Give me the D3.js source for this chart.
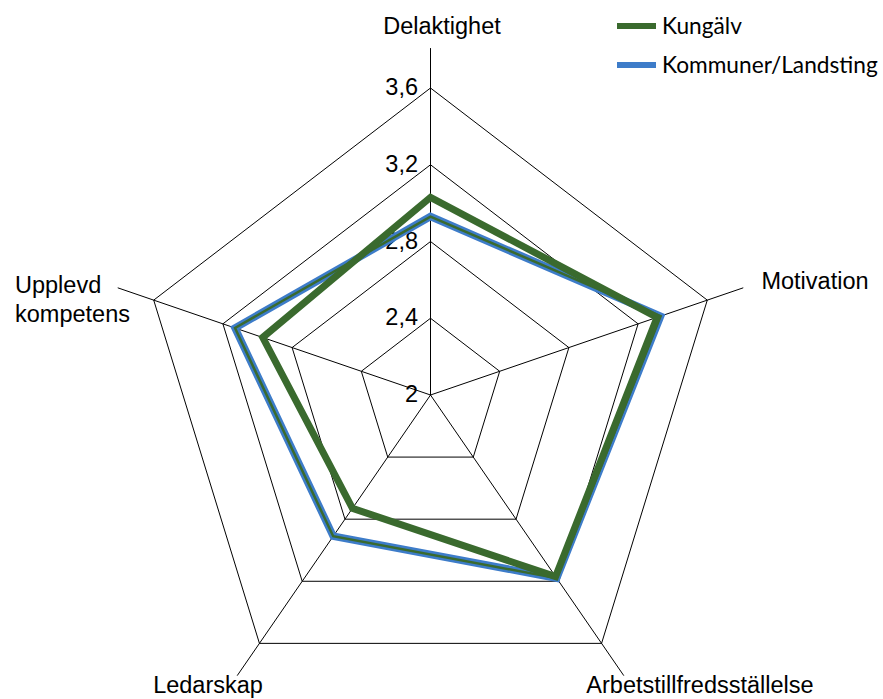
<!DOCTYPE html>
<html><head><meta charset="utf-8">
<script src="https://cdn.jsdelivr.net/npm/d3@7"></script>
<style>body{margin:0;background:#fff}svg{display:block}</style>
</head><body>
<svg id="c" width="883" height="699"></svg>
<script>
const categories = ["Delaktighet","Motivation","Arbetstillfredsställelse","Ledarskap","Upplevd kompetens"];
const kungalv = [3.03, 3.31, 3.17, 2.73, 2.97];
const kommuner = [2.93, 3.33, 3.18, 2.91, 3.13];
const ticks = [2, 2.4, 2.8, 3.2, 3.6];
const tickLabels = ["2","2,4","2,8","3,2","3,6"];
const seriesNames = ["Kungälv","Kommuner/Landsting"];

const svg = d3.select("#c");
const cx = 430.5, cy = 395, R = 307, xr = 0.948;
const r = d3.scaleLinear().domain([2,3.6]).range([0,R]);
const ang = d3.scaleLinear().domain([0,categories.length]).range([0,2*Math.PI]);
const pt = (i,rad)=>[cx + rad*Math.sin(ang(i))*xr, cy - rad*Math.cos(ang(i))];

const g = svg.append("g");
// rings
ticks.slice(1).forEach(t=>{
  g.append("path").attr("d", d3.line()(categories.map((c,i)=>pt(i,r(t))))+"Z")
   .attr("fill","none").attr("stroke","#000").attr("stroke-width",1);
});
// axes
categories.forEach((c,i)=>{
  const [x2,y2]=pt(i,R*1.13);
  g.append("line").attr("x1",cx).attr("y1",cy).attr("x2",x2).attr("y2",y2)
   .attr("stroke","#000").attr("stroke-width",1);
});
// tick labels
ticks.forEach((t,k)=>{
  g.append("text").attr("x",418).attr("y",cy - r(t)).attr("dy","0.3em")
   .attr("text-anchor","end").attr("font-family","Liberation Sans, Arial, sans-serif")
   .attr("font-size",23.5).attr("fill","#000").text(tickLabels[k]);
});
// series
const kP = d3.line()(kungalv.map((v,i)=>pt(i,r(v))))+"Z";
const bP = d3.line()(kommuner.map((v,i)=>pt(i,r(v))))+"Z";
g.append("path").attr("d",bP).attr("fill","none").attr("stroke","#3d7cc9").attr("stroke-width",7.5).attr("stroke-linejoin","miter");
g.append("path").attr("d",bP).attr("fill","none").attr("stroke","#3a6a2e").attr("stroke-width",2.5).attr("stroke-linejoin","miter");
g.append("path").attr("d",kP).attr("fill","none").attr("stroke","#3a6a2e").attr("stroke-width",7).attr("stroke-linejoin","miter");

// category labels
const lf = "Liberation Sans, Arial, sans-serif";
const lab = [
  {t:["Delaktighet"], x:442, y:34, a:"middle"},
  {t:["Motivation"], x:815, y:289, a:"middle"},
  {t:["Arbetstillfredsställelse"], x:700, y:693, a:"middle"},
  {t:["Ledarskap"], x:208, y:693, a:"middle"},
  {t:["Upplevd","kompetens"], x:15, y:293, a:"start"}
];
lab.forEach(l=>{
  const tx = svg.append("text").attr("font-family",lf).attr("font-size",23.5).attr("fill","#000").attr("text-anchor",l.a);
  l.t.forEach((s,j)=>tx.append("tspan").attr("x",l.x).attr("y",l.y+j*29).text(s));
});

// legend
const colors = ["#3a6a2e","#3d7cc9"];
seriesNames.forEach((s,i)=>{
  const y = 26 + i*39;
  svg.append("rect").attr("x",617).attr("y",y-3).attr("width",39).attr("height",6).attr("fill",colors[i]);
  svg.append("text").attr("x",662).attr("y",y+8).attr("font-family","Lato, 'Open Sans', sans-serif")
    .attr("font-size",22.7).attr("fill","#000").text(s);
});
</script>
</body></html>
